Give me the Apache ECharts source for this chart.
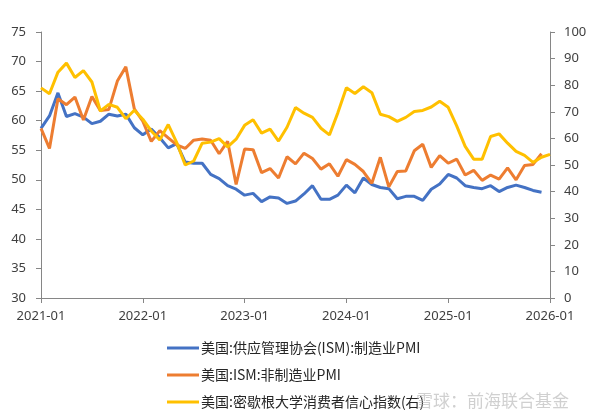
<!DOCTYPE html>
<html>
<head>
<meta charset="utf-8">
<script src="https://cdn.jsdelivr.net/npm/echarts@6/dist/echarts.min.js"></script>
<style>
html,body{margin:0;padding:0;background:#fff;}
#c{width:599px;height:418px;}
</style>
</head>
<body>
<div id="c"></div>
<script>
// Monthly categories 2021-01 .. 2026-01
const months = [];
for (let y = 2021; y <= 2026; y++) {
  for (let m = 1; m <= 12; m++) {
    if (y === 2026 && m > 1) break;
    months.push(y + '-' + (m < 10 ? '0' + m : m));
  }
}

const ismManufacturing = [
  58.7, 60.8, 64.7, 60.7, 61.2, 60.6, 59.5, 59.9, 61.1, 60.8, 61.1, 58.8,
  57.6, 58.6, 57.1, 55.4, 56.1, 53.0, 52.8, 52.8, 50.9, 50.2, 49.0, 48.4,
  47.4, 47.7, 46.3, 47.1, 46.9, 46.0, 46.4, 47.6, 49.0, 46.7, 46.7, 47.4,
  49.1, 47.8, 50.3, 49.2, 48.7, 48.5, 46.8, 47.2, 47.2, 46.5, 48.4, 49.3,
  50.9, 50.3, 49.0, 48.7, 48.5, 49.0, 48.0, 48.7, 49.1, 48.7, 48.2, 47.9
];

const ismServices = [
  58.7, 55.3, 63.7, 62.7, 64.0, 60.1, 64.1, 61.7, 61.9, 66.7, 69.1, 62.0,
  59.9, 56.5, 58.3, 57.1, 55.9, 55.3, 56.7, 56.9, 56.7, 54.4, 56.5, 49.2,
  55.2, 55.1, 51.2, 51.9, 50.3, 53.9, 52.7, 54.5, 53.6, 51.8, 52.7, 50.6,
  53.4, 52.6, 51.4, 49.4, 53.8, 48.8, 51.4, 51.5, 54.9, 56.0, 52.1, 54.1,
  52.8, 53.5, 50.8, 51.6, 49.9, 50.8, 50.1, 52.0, 50.0, 52.4, 52.6, 54.4
];

const michiganSentiment = [
  79.0, 76.8, 84.9, 88.3, 82.9, 85.5, 81.2, 70.3, 72.8, 71.7, 67.4, 70.6,
  67.2, 62.8, 59.4, 65.2, 58.4, 50.0, 51.5, 58.2, 58.6, 59.9, 56.8, 59.7,
  64.9, 67.0, 62.0, 63.5, 59.0, 64.2, 71.6, 69.5, 67.9, 63.8, 61.3, 69.7,
  79.0, 76.9, 79.4, 77.2, 69.1, 68.2, 66.4, 67.9, 70.1, 70.5, 71.8, 74.0,
  71.7, 64.7, 57.0, 52.2, 52.2, 60.7, 61.7, 58.2, 55.1, 53.6, 51.0, 52.9,
  54.0
];

const seriesNames = [
  '美国:供应管理协会(ISM):制造业PMI',
  '美国:ISM:非制造业PMI',
  '美国:密歇根大学消费者信心指数(右)'
];

const chart = echarts.init(document.getElementById('c'), null, {renderer: 'canvas'});
const axisColor = '#868686';
const labelColor = '#404040';
const numFont = 'Noto Sans';

chart.setOption({
  animation: false,
  color: ['#4472C4', '#ED7D31', '#FFC000'],
  grid: {left: 41, right: 49, top: 32, bottom: 120, containLabel: false},
  legend: {
    orient: 'vertical',
    left: 167,
    top: 340,
    padding: 0,
    itemWidth: 32,
    itemHeight: 3,
    itemGap: 11,
    icon: 'rect',
    textStyle: {fontFamily: 'Noto Sans CJK SC', fontSize: 14, color: '#262626', padding: [0, 0, 0, -3], lineHeight: 16},
    data: seriesNames
  },
  xAxis: {
    type: 'category',
    data: months,
    boundaryGap: false,
    axisLine: {lineStyle: {color: axisColor, width: 1}},
    axisTick: {show: true, interval: 11, length: 5, lineStyle: {color: axisColor}},
    axisLabel: {interval: 11, color: labelColor, fontFamily: numFont, fontSize: 13, margin: 12}
  },
  yAxis: [
    {
      type: 'value', min: 30, max: 75, interval: 5, position: 'left',
      splitLine: {show: false},
      axisLine: {show: true, lineStyle: {color: axisColor}},
      axisTick: {show: true, length: 5, lineStyle: {color: axisColor}},
      axisLabel: {color: labelColor, fontFamily: numFont, fontSize: 13, margin: 15}
    },
    {
      type: 'value', min: 0, max: 100, interval: 10, position: 'right',
      splitLine: {show: false},
      axisLine: {show: true, lineStyle: {color: axisColor}},
      axisTick: {show: true, length: 5, lineStyle: {color: axisColor}},
      axisLabel: {color: labelColor, fontFamily: numFont, fontSize: 13, margin: 14}
    }
  ],
  series: [
    {name: seriesNames[0], type: 'line', yAxisIndex: 0, data: ismManufacturing, showSymbol: false, symbol: 'none', lineStyle: {width: 3}},
    {name: seriesNames[1], type: 'line', yAxisIndex: 0, data: ismServices, showSymbol: false, symbol: 'none', lineStyle: {width: 3}},
    {name: seriesNames[2], type: 'line', yAxisIndex: 1, data: michiganSentiment, showSymbol: false, symbol: 'none', lineStyle: {width: 3}}
  ],
  graphic: [
    {
      type: 'text', left: 416, top: 392, silent: true, z: 100,
      style: {text: '雪球：前海联合基金', fontFamily: 'Noto Sans CJK SC', fontSize: 17, fill: 'rgba(170,170,170,0.55)'}
    }
  ]
});
</script>
</body>
</html>
